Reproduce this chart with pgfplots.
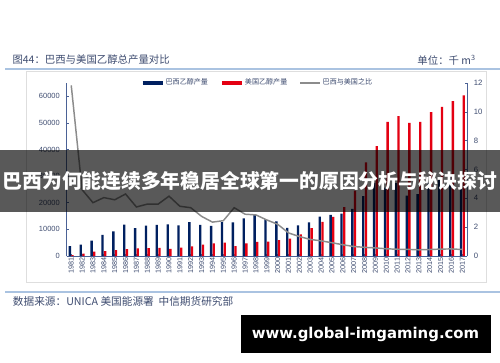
\documentclass[border=0pt]{standalone}
\usepackage{fontspec}
\setmainfont{Liberation Sans}
\newfontfamily\cjk{Noto Sans CJK SC}
\newfontfamily\dejavu{DejaVu Sans}
\usepackage{pgfplots}
\usepackage{pgfplotstable}
\pgfplotsset{compat=1.18}
\definecolor{brnavy}{RGB}{0,32,96}
\definecolor{usred}{RGB}{228,0,18}
\definecolor{ratiogray}{RGB}{140,140,140}
\definecolor{axcol}{RGB}{75,98,150}
\definecolor{txtcol}{RGB}{62,76,112}
\definecolor{rulecol}{RGB}{170,195,225}
\definecolor{framecol}{RGB}{222,222,222}

\pgfplotstableread{
year brazil us ratio
1981 3706 300 11.84
1982 4240 850 4.6
1983 5823 1600 3.7
1984 7985 1870 4.05
1985 9252 2250 3.9
1986 11830 2620 4.3
1987 10516 2900 3.4
1988 11456 3000 3.6
1989 11725 3050 3.6
1990 11920 2650 4.15
1991 11515 3150 3.45
1992 12716 3650 3.35
1993 11695 4250 2.75
1994 11296 4750 2.35
1995 12690 5000 2.45
1996 12595 3750 3.35
1997 14135 4750 2.9
1998 15419 5300 2.85
1999 13873 5400 2.5
2000 13022 6000 2.2
2001 10593 6550 1.6
2002 11536 8100 1.35
2003 12623 10450 1.15
2004 14809 12800 1.05
2005 15417 14700 0.92
2006 15947 18400 0.78
2007 17719 24600 0.66
2008 22527 35150 0.6
2009 27513 41300 0.56
2010 25691 50350 0.5
2011 27376 52600 0.47
2012 22682 50000 0.46
2013 23226 50350 0.43
2014 27604 54100 0.45
2015 28659 56000 0.48
2016 30232 58150 0.49
2017 27800 60350 0.45
}\data

\begin{document}
\begin{tikzpicture}
\useasboundingbox (0,0) rectangle (375pt,271.5pt);
\fill[white] (0,0) rectangle (375pt,271.5pt);
\begin{scope}[x=0.75pt,y=-0.75pt,shift={(0pt,271.5pt)}]
  \draw[rulecol, line width=1.4pt] (5,68.7) -- (500,68.7);
  \draw[framecol, line width=0.8pt] (26.7,71.5) rectangle (486.3,282.7);
  \node[anchor=west, text=txtcol, font=\cjk\fontsize{7.8pt}{9pt}\selectfont, inner sep=0pt] at (12.3,60) {图44：巴西与美国乙醇总产量对比};
  \node[anchor=east, text=txtcol, font=\cjk\fontsize{7.8pt}{9pt}\selectfont, inner sep=0pt] at (476,60) {单位：千 m\textsuperscript{3}};
  \draw[rulecol, line width=1.4pt] (5,291.7) -- (500,291.7);
  \node[anchor=west, text=txtcol, font=\cjk\fontsize{8.0pt}{9pt}\selectfont, inner sep=0pt] at (12.7,301) {数据来源：UNICA 美国能源署\ \ 中信期货研究部};
\end{scope}

\begin{axis}[
  at={(50.0pt,79.5pt)}, anchor=south west,
  scale only axis, width=300.2pt, height=129.75pt,
  xmin=1980.58, xmax=2017.42, ymin=0, ymax=65000,
  axis x line*=bottom, axis y line*=left,
  axis line style={axcol, line width=0.6pt},
  xtick={1981,...,2017},
  ytick={0,10000,...,60000},
  scaled y ticks=false,
  /pgf/number format/assume math mode=true,
  /pgf/number format/1000 sep={},
  tick align=inside,
  major tick length=1.5pt,
  tick style={axcol, line width=0.5pt},
  xticklabel style={rotate=90, anchor=east, inner sep=1pt, font=\fontsize{5.4pt}{6pt}\selectfont, text=txtcol},
  yticklabel style={font=\fontsize{5.6pt}{6pt}\selectfont, text=txtcol, inner sep=1pt, xshift=-4pt},
  legend columns=3,
  legend style={at={(0.185,1.0)}, anchor=west, draw=none, fill=none,
     font=\cjk\fontsize{5.3pt}{6pt}\selectfont, text=txtcol,
     /tikz/every even column/.append style={column sep=8pt},
     inner sep=0pt, nodes={inner sep=1.2pt}},
  clip=false,
]
\addplot[ybar, bar width=1.75pt, bar shift=-1.0pt, fill=brnavy, draw=none,
  legend image code/.code={\draw[brnavy, line width=2.3pt] (0pt,0pt) -- (15pt,0pt);}]
  table[x=year, y=brazil] {\data};
\addlegendentry{巴西乙醇产量}
\addplot[ybar, bar width=1.75pt, bar shift=1.0pt, fill=usred, draw=none,
  legend image code/.code={\draw[usred, line width=2.3pt] (0pt,0pt) -- (15pt,0pt);}]
  table[x=year, y=us] {\data};
\addlegendentry{美国乙醇产量}
\addlegendimage{ratiogray, line width=1.1pt, legend image code/.code={\draw[ratiogray, line width=1.1pt] (0pt,0pt) -- (15pt,0pt);}}
\addlegendentry{巴西与美国之比}
\end{axis}

\begin{axis}[
  at={(50.0pt,79.5pt)}, anchor=south west,
  scale only axis, width=300.2pt, height=129.75pt,
  xmin=1980.58, xmax=2017.42, ymin=0, ymax=12,
  axis x line=none, axis y line*=right,
  axis line style={axcol, line width=0.6pt},
  ytick={0,2,...,12},
  /pgf/number format/assume math mode=true,
  tick align=inside,
  major tick length=1.5pt,
  tick style={axcol, line width=0.5pt},
  yticklabel style={font=\fontsize{5.8pt}{6pt}\selectfont, text=txtcol, inner sep=1pt, xshift=4pt},
]
\addplot[ratiogray, line width=1.1pt, mark=none] table[x=year, y=ratio] {\data};
\end{axis}

\begin{scope}[x=0.75pt,y=-0.75pt,shift={(0pt,271.5pt)}]
  \fill[black, fill opacity=0.65] (0,150) rectangle (500,211.5);
  \node[text=white, inner sep=0pt] at (250,181) {\resizebox{371pt}{!}{\cjk\bfseries 巴西为何能连续多年稳居全球第一的原因分析与秘诀探讨}};
  \fill[black] (241,315) rectangle (491,352.7);
  \node[text=white, inner sep=0pt] at (365.5,334.5) {\resizebox{170.5pt}{!}{\dejavu\bfseries www.global-imgaming.com}};
\end{scope}
\end{tikzpicture}
\end{document}
